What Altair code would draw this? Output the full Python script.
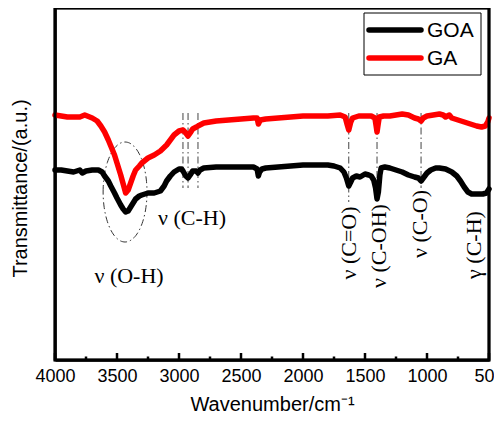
import altair as alt
import pandas as pd
import numpy as np

# ---- data (wavenumber in cm^-1, transmittance in a.u.) ----
goa_wn = [4000, 3950, 3900, 3850, 3800, 3780, 3750, 3700, 3650, 3620, 3600, 3570, 3550, 3520,
          3500, 3470, 3450, 3430, 3410, 3390, 3370, 3350, 3320, 3300, 3250, 3200, 3150, 3120,
          3100, 3070, 3040, 3000, 2980, 2968, 2945, 2927, 2910, 2890, 2860, 2847, 2830, 2800,
          2700, 2600, 2500, 2400, 2370, 2360, 2350, 2330, 2300, 2200, 2100, 2000, 1900, 1800,
          1750, 1700, 1670, 1650, 1631, 1615, 1600, 1570, 1540, 1500, 1470, 1450, 1430, 1415,
          1403, 1392, 1380, 1370, 1340, 1300, 1250, 1200, 1150, 1100, 1070, 1048, 1030, 1000,
          970, 930, 900, 850, 800, 760, 730, 700, 670, 640, 600, 550, 520, 500]
goa_val = [190, 190, 189, 188, 190, 187, 189, 190, 190, 188, 184, 179, 174, 167,
           162, 155, 151, 148, 149, 153, 157, 161, 164, 165, 167, 167, 169, 174,
           179, 184, 188, 191, 191, 189, 184, 182, 185, 189, 189, 187, 190, 192,
           193, 193, 193, 193, 191, 184, 188, 191, 192, 193, 194, 195, 195, 195,
           194, 192, 188, 182, 174, 178, 182, 184, 183, 186, 185, 184, 180, 172,
           161, 168, 185, 192, 193, 192, 190, 188, 185, 183, 182, 179, 182, 187,
           190, 192, 192, 191, 188, 184, 179, 173, 168, 166, 166, 166, 167, 171]

ga_wn = [4000, 3950, 3900, 3850, 3800, 3760, 3740, 3700, 3660, 3630, 3600, 3570, 3550, 3520,
         3500, 3470, 3450, 3430, 3410, 3390, 3370, 3350, 3320, 3300, 3250, 3200, 3150, 3100,
         3070, 3040, 3000, 2968, 2945, 2927, 2910, 2890, 2860, 2847, 2800, 2700, 2600, 2500,
         2400, 2370, 2360, 2345, 2300, 2200, 2100, 2000, 1900, 1800, 1700, 1660, 1645, 1631,
         1615, 1600, 1550, 1500, 1450, 1420, 1410, 1403, 1395, 1385, 1350, 1300, 1250, 1200,
         1150, 1100, 1070, 1048, 1030, 1000, 950, 900, 870, 850, 820, 800, 750, 700, 650, 600,
         560, 530, 510, 500]
ga_val = [245, 244, 243, 243, 243, 245, 244, 242, 239, 234, 228, 220, 214, 205,
          197, 185, 176, 167, 170, 177, 184, 190, 194, 197, 202, 205, 209, 215,
          220, 225, 229, 230, 227, 224, 227, 231, 233, 234, 237, 239, 240, 241,
          242, 242, 236, 240, 241, 242, 243, 244, 244, 244, 245, 243, 236, 230,
          238, 242, 244, 244, 244, 242, 234, 228, 235, 243, 244, 244, 245, 246,
          245, 242, 241, 239, 242, 244, 245, 246, 245, 243, 245, 242, 240, 238, 236, 234,
          233, 234, 238, 242]

series_names = ["GOA", "GA"]
series_colors = ["black", "red"]

# peak-assignment annotations
vline_wn = [2968, 2927, 2847, 1631, 1403, 1048]
vline_top = [247, 247, 247, 247, 247, 247]
vline_bot = [172, 172, 172, 158, 160, 172]

label_text = ["ν (O-H)", "ν (C-H)"]
label_wn = [3403, 2895]
label_val = [84, 142]

vlabel_text = ["ν (C=O)", "ν (C-OH)", "ν (C-O)", "γ (C-H)"]
vlabel_wn = [1629, 1387, 1056, 621]
vlabel_val = [117, 114, 136, 115]

# ellipse around O-H band (centre, half-axes)
ell_cx, ell_cy, ell_rx, ell_ry = 3435, 168, 177, 50

major_ticks = [4000, 3500, 3000, 2500, 2000, 1500, 1000, 500]
minor_ticks = [3750, 3250, 2750, 2250, 1750, 1250, 750]

H = 352
W = 434
X_DOM = [4000, 500]
Y_DOM = [0, H]

# ---- tables ----
df = pd.concat([
    pd.DataFrame({"wn": goa_wn, "val": goa_val, "series": "GOA", "idx": range(len(goa_wn))}),
    pd.DataFrame({"wn": ga_wn, "val": ga_val, "series": "GA", "idx": range(len(ga_wn))}),
])
vlines = pd.DataFrame({"wn": vline_wn, "top": vline_top, "bot": vline_bot})
labels = pd.DataFrame({"wn": label_wn, "val": label_val, "text": label_text})
vlabels = pd.DataFrame({"wn": vlabel_wn, "val": vlabel_val, "text": vlabel_text})
t = np.linspace(0, 2 * np.pi, 121)
ellipse = pd.DataFrame({"wn": ell_cx + ell_rx * np.cos(t), "val": ell_cy + ell_ry * np.sin(t),
                        "i": np.arange(len(t))})
majors = pd.DataFrame({"wn": major_ticks})
minors = pd.DataFrame({"wn": minor_ticks})
legend_df = pd.DataFrame({"series": series_names})
one = legend_df.head(1)
# plot box edges at the scale domain limits
frame_df = pd.DataFrame({"fx0": [X_DOM[0]], "fx1": [X_DOM[1]], "fy0": [Y_DOM[0]], "fy1": [Y_DOM[1]]})

xscale = alt.Scale(domain=X_DOM, nice=False, zero=False)
yscale = alt.Scale(domain=Y_DOM, nice=False, zero=False)

X = alt.X("wn:Q", scale=xscale,
          axis=alt.Axis(title="Wavenumber/cm⁻¹", values=major_ticks, format="d",
                        ticks=False, tickSize=0, domain=True, domainColor="black", domainWidth=2.5,
                        grid=False,
                        labelFont="Liberation Sans", labelFontSize=18, labelColor="black",
                        labelPadding=7, labelFlush=False,
                        titleFont="Liberation Sans", titleFontSize=20, titleFontWeight="normal",
                        titleColor="black", titlePadding=9))
Y = alt.Y("val:Q", scale=yscale,
          axis=alt.Axis(title="Transmittance/(a.u.)", labels=False, ticks=False,
                        domain=True, domainColor="black", domainWidth=2.5, grid=False,
                        titleFont="Liberation Sans", titleFontSize=20, titleFontWeight="normal",
                        titleColor="black", titleX=-35, titleY=180, titleAngle=270,
                        titleAlign="center", titleBaseline="middle"))

lines = alt.Chart(df).mark_line(strokeWidth=5.5, strokeJoin="round", strokeCap="round").encode(
    x=X, y=Y,
    color=alt.Color("series:N", scale=alt.Scale(domain=series_names, range=series_colors), legend=None),
    order=alt.Order("idx:Q"),
)

vl = alt.Chart(vlines).mark_rule(color="#444", strokeWidth=1, strokeDash=[7, 3, 1.5, 3]).encode(
    x="wn:Q", y="top:Q", y2="bot:Q")

ell = alt.Chart(ellipse).mark_line(color="#333", strokeWidth=1, strokeDash=[7, 3, 1.5, 3]).encode(
    x="wn:Q", y="val:Q", order="i:Q")

txt = alt.Chart(labels).mark_text(font="Liberation Serif", fontSize=22, color="black",
                                  align="center", baseline="middle").encode(
    x="wn:Q", y="val:Q", text="text:N")

vtxt = alt.Chart(vlabels).mark_text(font="Liberation Serif", fontSize=22, color="black", angle=270,
                                    align="center", baseline="middle").encode(
    x="wn:Q", y="val:Q", text="text:N")

maj = alt.Chart(majors).mark_rule(color="black", strokeWidth=2.5).encode(
    x="wn:Q", y=alt.value(H), y2=alt.value(H - 7))
mino = alt.Chart(minors).mark_rule(color="black", strokeWidth=2.5).encode(
    x="wn:Q", y=alt.value(H), y2=alt.value(H - 3.5))

# plot frame as one unfilled rectangle spanning the scale domains
frame = alt.Chart(frame_df).mark_rect(fill="transparent", stroke="#000000", strokeWidth=3).encode(
    x="fx0:Q", x2="fx1:Q", y="fy0:Q", y2="fy1:Q")

# manual legend (box, line samples, labels)
leg_box = alt.Chart(one).mark_rect(fill="white", stroke="black", strokeWidth=1).encode(
    x=alt.value(309), x2=alt.value(426), y=alt.value(5), y2=alt.value(67))
leg_layers = [leg_box]
leg_rows_y = [22, 50]
for name, col, yy in zip(series_names, series_colors, leg_rows_y):
    sub = legend_df[legend_df.series == name]
    leg_layers.append(alt.Chart(sub).mark_rule(strokeWidth=5.5, strokeCap="round", color=col).encode(
        x=alt.value(314), x2=alt.value(366), y=alt.value(yy)))
    leg_layers.append(alt.Chart(sub).mark_text(font="Liberation Sans", fontSize=21, color="black",
                                               align="left", baseline="middle").encode(
        x=alt.value(372), y=alt.value(yy + 1), text="series:N"))

chart = alt.layer(vl, ell, lines, txt, vtxt, maj, mino, *leg_layers, frame).properties(
    width=W, height=H,
    autosize=alt.AutoSizeParams(type="none"),
    padding={"left": 47, "top": 0, "right": 5, "bottom": 55},
).configure_view(stroke="black", strokeWidth=2.5)

chart.save("out.html", embed_options={"renderer": "svg", "actions": False})
